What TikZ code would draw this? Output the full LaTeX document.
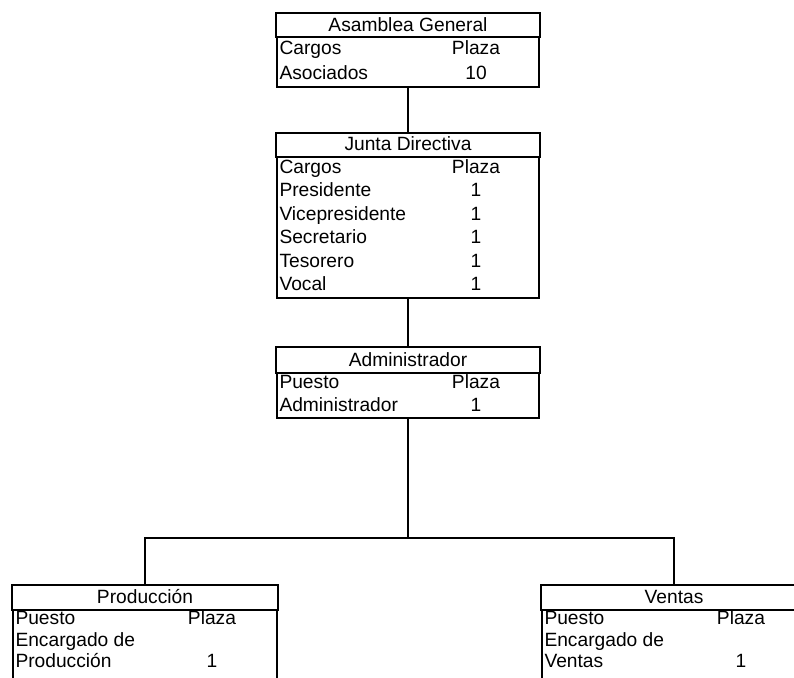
\documentclass[tikz,border=0pt]{standalone}
\usepackage{fontspec}
\setmainfont{Liberation Sans}
\usepackage{array}
\usetikzlibrary{positioning}
\newcommand{\plazatab}[2][33pt]{%
  \begin{tabular}{@{\hspace{2.5pt}}p{166.5pt}@{}>{\centering\arraybackslash}p{60pt}@{\hspace{#1}}}#2\end{tabular}}
\tikzset{
  head/.style={
    draw, line width=2pt, inner sep=0pt, outer sep=0pt, minimum width=#1,
    minimum height=24.5pt, text height=15pt, text depth=3pt,
    font=\fontsize{19.2}{23.5}\selectfont
  },
  head/.default=264pt,
  body/.style={
    draw, line width=2pt, inner sep=0pt, outer sep=0pt,
    font=\fontsize{19.2}{#1}\selectfont
  },
  body/.default=23.5pt,
  link/.style={line width=2pt}
}
\begin{document}
\begin{tikzpicture}[x=1pt,y=-1pt]
    \clip (0,0) rectangle (794,677);
    \fill[white] (0,0) rectangle (794,677);
    % top chain
    \node[head,anchor=north] (asamT) at (408,13) {Asamblea General};
    \node[body=24.5pt,below=0pt of asamT] (asamB) {\plazatab{Cargos & Plaza\\ Asociados & 10\\}};
    \node[head,below=46pt of asamB] (junT) {Junta Directiva};
    \node[body,below=0pt of junT] (junB) {\plazatab{Cargos & Plaza\\ Presidente & 1\\ Vicepresidente & 1\\ Secretario & 1\\ Tesorero & 1\\ Vocal & 1\\}};
    \node[head,minimum height=26pt,below=49pt of junB] (admT) {Administrador};
    \node[body=22.5pt,below=0pt of admT] (admB) {\plazatab{Puesto & Plaza\\ Administrador & 1\\}};
    % departments
    \node[head=266pt,anchor=north] (prodT) at (145,585) {Producción};
    \node[body=21.5pt,below=0pt of prodT] (prodB) {\plazatab[35pt]{Puesto & Plaza\\ Encargado de & \\ Producción & 1\\[12pt]}};
    \node[head=266pt,anchor=north] (ventT) at (674,585) {Ventas};
    \node[body=21.5pt,below=0pt of ventT] (ventB) {\plazatab[35pt]{Puesto & Plaza\\ Encargado de & \\ Ventas & 1\\[12pt]}};
    \coordinate (bus) at (408,538);
    \draw[link] (asamB.south) -- (junT.north);
    \draw[link] (junB.south) -- (admT.north);
    \draw[link] (admB.south) -- (bus);
    \draw[link] (prodT.north) |- (bus) -| (ventT.north);
\end{tikzpicture}
\end{document}
